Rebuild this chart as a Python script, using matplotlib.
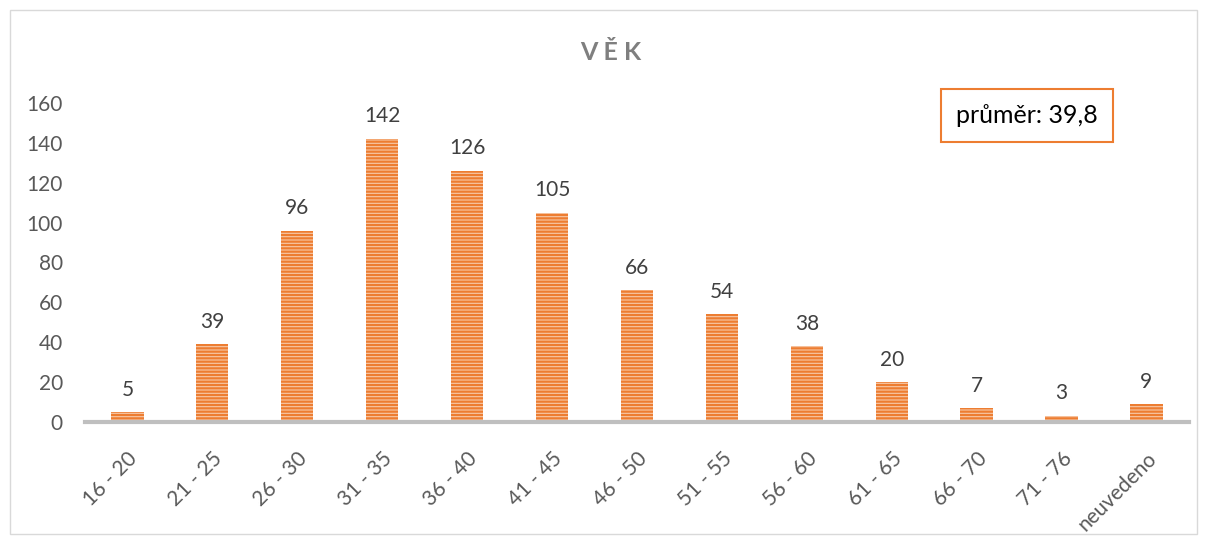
import matplotlib.pyplot as plt
from matplotlib.patches import Rectangle

plt.rcParams['font.family'] = ['Lato', 'DejaVu Sans']
plt.rcParams['hatch.linewidth'] = 1.6

categories = ["16 - 20", "21 - 25", "26 - 30", "31 - 35", "36 - 40", "41 - 45",
              "46 - 50", "51 - 55", "56 - 60", "61 - 65", "66 - 70", "71 - 76",
              "neuvedeno"]
counts = [5, 39, 96, 142, 126, 105, 66, 54, 38, 20, 7, 3, 9]
y_ticks = [0, 20, 40, 60, 80, 100, 120, 140, 160]

gray = "#595959"
orange = "#ED7D31"

fig = plt.figure(figsize=(12.07, 5.44), dpi=100)
ax = fig.add_axes([0.0704, 0.2243, 0.9146, 0.5864])

x = range(len(categories))
bars = ax.bar(x, counts, width=0.38, color="#F8C9A8", edgecolor=orange,
              hatch="-----", linewidth=0)

for xi, v in zip(x, counts):
    ax.annotate(str(v), (xi, v), xytext=(0, 9), textcoords="offset points",
                ha="center", va="bottom", fontsize=15, color="#404040")

ax.set_xlim(-0.5, len(categories) - 0.5)
ax.set_ylim(0, 160)
ax.set_yticks(y_ticks)
ax.set_yticklabels([str(t) for t in y_ticks], fontsize=15, color=gray)
ax.set_xticks(list(x))
ax.set_xticklabels(categories, rotation=45, ha="right", rotation_mode="anchor",
                   fontsize=15, color=gray)
ax.tick_params(length=0, axis="both")
ax.tick_params(axis="y", pad=16)
ax.tick_params(axis="x", pad=19)

for s in ["top", "right", "left"]:
    ax.spines[s].set_visible(False)
ax.spines["bottom"].set_color("#BFBFBF")
ax.spines["bottom"].set_linewidth(3)

fig.text(0.506, 0.904, "V Ě K", ha="center", va="center", fontsize=18,
         fontweight="bold", color="#7F7F7F")

# average box
fig.text(0.851, 0.788, "průměr: 39,8", ha="center", va="center", fontsize=18,
         color="black",
         bbox=dict(boxstyle="square,pad=0.6", facecolor="white",
                   edgecolor=orange, linewidth=1.5))

# chart border
fig.add_artist(Rectangle((0.008, 0.018), 0.984, 0.964, transform=fig.transFigure,
                         fill=False, edgecolor="#D9D9D9", linewidth=1))

fig.savefig("out.png", dpi=100)
